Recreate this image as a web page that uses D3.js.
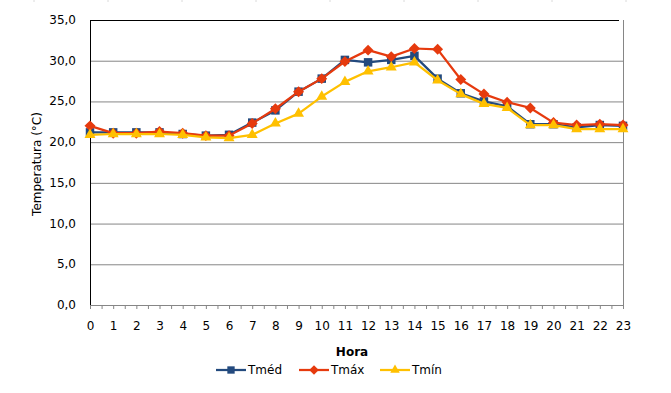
<!DOCTYPE html>
<html>
<head>
<meta charset="utf-8">
<script src="https://cdn.jsdelivr.net/npm/d3@7"></script>
<style>
  body { margin: 0; background: #fff; }
  text { font-family: "DejaVu Sans", Verdana, sans-serif; }
</style>
</head>
<body>
<div id="chart"></div>
<script>
var horas = [0,1,2,3,4,5,6,7,8,9,10,11,12,13,14,15,16,17,18,19,20,21,22,23];
var tMed = [21.2,21.2,21.2,21.2,21.0,20.8,20.9,22.4,23.9,26.2,27.8,30.1,29.8,30.1,30.6,27.8,26.0,25.0,24.4,22.2,22.2,21.8,22.1,22.0];
var tMax = [22.0,21.1,21.1,21.3,21.1,20.8,20.8,22.3,24.1,26.2,27.8,29.9,31.3,30.5,31.5,31.4,27.7,25.9,24.9,24.2,22.4,22.1,22.2,22.1];
var tMin = [20.9,21.0,21.0,21.0,20.9,20.6,20.5,20.9,22.3,23.5,25.6,27.4,28.7,29.2,29.8,27.6,25.9,24.7,24.2,22.1,22.1,21.6,21.6,21.6];
var yTicks = [0,5,10,15,20,25,30,35];

var width = 671, height = 393;
var margin = {top: 20, right: 48, bottom: 88, left: 90};
var plotW = width - margin.left - margin.right,
    plotH = height - margin.top - margin.bottom;

var svg = d3.select("#chart").append("svg")
    .attr("width", width)
    .attr("height", height);

// faint sheet gridlines at the very top
svg.selectAll(".cell")
    .data([34,108,182,256,330,404,478,552,626])
    .enter().append("line")
    .attr("x1", function (d) { return d; })
    .attr("x2", function (d) { return d; })
    .attr("y1", 0).attr("y2", 2)
    .attr("stroke", "#dadada");

var g = svg.append("g")
    .attr("transform", "translate(" + margin.left + "," + margin.top + ")");

var x = d3.scaleLinear().domain([0, 23]).range([0, plotW]);
var y = d3.scaleLinear().domain([0, 35]).range([plotH, 0]);

//gridlines
g.selectAll(".grid")
    .data(yTicks.filter(function (d) { return d > 0 && d < 35; }))
    .enter().append("line")
    .attr("x1", 0).attr("x2", plotW)
    .attr("y1", function (d) { return y(d) + 0.5; })
    .attr("y2", function (d) { return y(d) + 0.5; })
    .attr("stroke", "#868686");

//right border (gray) and top (black)
g.append("line")
    .attr("x1", plotW + 0.5).attr("x2", plotW + 0.5)
    .attr("y1", 0).attr("y2", plotH)
    .attr("stroke", "#868686");
g.append("line")
    .attr("x1", 0).attr("x2", plotW - 4)
    .attr("y1", 0.5).attr("y2", 0.5)
    .attr("stroke", "#000");

//x axis
var halfTicks = d3.range(0, 23.01, 0.5);
var xAxis = g.append("g")
    .attr("transform", "translate(0," + plotH + ")")
    .call(d3.axisBottom(x).tickValues(halfTicks).tickSize(4).tickFormat(""));
xAxis.select(".domain").attr("stroke", "#868686").attr("d", "M0.5,0.5H" + (plotW + 0.5));
xAxis.selectAll(".tick line").attr("stroke", "#868686");

g.selectAll(".xlab")
    .data(horas)
    .enter().append("text")
    .attr("x", function (d) { return x(d) + 0.5; })
    .attr("y", plotH + 25)
    .attr("text-anchor", "middle")
    .attr("font-size", "12px")
    .attr("fill", "#000")
    .text(function (d) { return d; });

//y axis
g.append("line")
    .attr("x1", 0.5).attr("x2", 0.5)
    .attr("y1", 0).attr("y2", plotH)
    .attr("stroke", "#000");

g.selectAll(".ylab")
    .data(yTicks)
    .enter().append("text")
    .attr("x", -14)
    .attr("y", function (d) { return y(d) + 4; })
    .attr("text-anchor", "end")
    .attr("font-size", "12px")
    .attr("fill", "#000")
    .text(function (d) { return d.toFixed(1).replace(".", ","); });

//axis titles
svg.append("text")
    .attr("x", 352)
    .attr("y", 356)
    .attr("text-anchor", "middle")
    .attr("font-size", "12px")
    .attr("font-weight", "bold")
    .text("Hora");

svg.append("text")
    .attr("transform", "translate(41,164) rotate(-90)")
    .attr("text-anchor", "middle")
    .attr("font-size", "12px")
    .text("Temperatura (°C)");

//series
var series = [
    {name: "Tméd", values: tMed, color: "#234A7E", symbol: d3.symbolSquare, size: 72, rot: 0},
    {name: "Tmáx", values: tMax, color: "#E63A0E", symbol: d3.symbolSquare, size: 60, rot: 45},
    {name: "Tmín", values: tMin, color: "#FFC000", symbol: d3.symbolTriangle, size: 52, rot: 0}
];

var line = d3.line()
    .x(function (d, i) { return x(horas[i]); })
    .y(function (d) { return y(d); });

series.forEach(function (s) {
    g.append("path")
        .datum(s.values)
        .attr("fill", "none")
        .attr("stroke", s.color)
        .attr("stroke-width", 2.25)
        .attr("stroke-linejoin", "round")
        .attr("d", line);
    g.selectAll(null)
        .data(s.values)
        .enter().append("path")
        .attr("transform", function (d, i) {
            return "translate(" + x(horas[i]) + "," + y(d) + ") rotate(" + s.rot + ")";
        })
        .attr("d", d3.symbol().type(s.symbol).size(s.size))
        .attr("fill", s.color);
});

//legend
var legendPos = [216, 299, 380];
var legend = svg.selectAll(".legend")
    .data(series)
    .enter().append("g")
    .attr("transform", function (d, i) { return "translate(" + legendPos[i] + ",370)"; });

legend.append("line")
    .attr("x1", 0).attr("x2", 30)
    .attr("stroke", function (d) { return d.color; })
    .attr("stroke-width", 2.25);

legend.append("path")
    .attr("transform", function (d) { return "translate(15,0) rotate(" + d.rot + ")"; })
    .attr("d", function (d) { return d3.symbol().type(d.symbol).size(d.size * 0.75)(); })
    .attr("fill", function (d) { return d.color; });

legend.append("text")
    .attr("x", 32)
    .attr("y", 4)
    .attr("font-size", "12px")
    .text(function (d) { return d.name; });
</script>
</body>
</html>
